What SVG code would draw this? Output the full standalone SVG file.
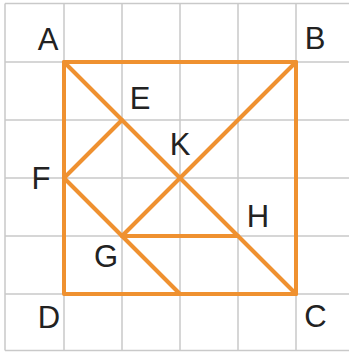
<svg xmlns="http://www.w3.org/2000/svg" width="349" height="354" viewBox="0 0 349 354">
<style>
.grid{stroke:#c9c9c9;stroke-width:1.5;fill:none}
.edge{stroke:#ef9130;stroke-width:4;fill:none;stroke-linecap:round;stroke-linejoin:round}
.lbl{font-family:"Liberation Sans",Arial,sans-serif;font-size:31px;fill:#222;text-anchor:middle}
</style>
<rect width="349" height="354" fill="#ffffff"/>
<g id="grid" class="grid">
<path d="M5 3.5V350.5M64 3.5V350.5M122 3.5V350.5M180 3.5V350.5M238 3.5V350.5M296 3.5V350.5"/>
<path d="M5 3.5H349M5 62H349M5 120H349M5 178H349M5 236H349M5 294H349M5 350.5H349"/>
</g>
<g id="connectors" class="edge">
<path d="M64 62H296V294H64Z"/>
<path d="M64 62L296 294"/>
<path d="M296 62L122 236"/>
<path d="M64 178L122 120"/>
<path d="M64 178L180 294"/>
<path d="M122 236H238"/>
</g>
<g id="A"><text class="lbl" x="48" y="50">A</text></g>
<g id="B"><text class="lbl" x="315" y="49">B</text></g>
<g id="E"><text class="lbl" x="140" y="109">E</text></g>
<g id="K"><text class="lbl" x="180" y="155">K</text></g>
<g id="F"><text class="lbl" x="41" y="189">F</text></g>
<g id="G"><text class="lbl" x="106" y="267">G</text></g>
<g id="H"><text class="lbl" x="258" y="227">H</text></g>
<g id="D"><text class="lbl" x="49" y="328">D</text></g>
<g id="C"><text class="lbl" x="315.5" y="327">C</text></g>
</svg>
